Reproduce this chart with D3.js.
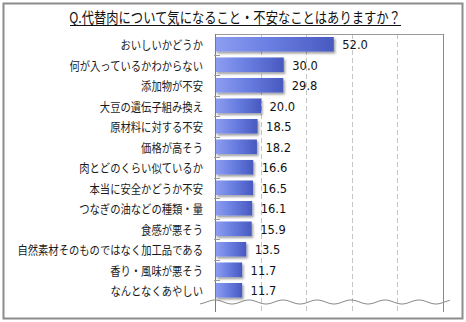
<!DOCTYPE html>
<html>
<head>
<meta charset="utf-8">
<script src="https://cdn.jsdelivr.net/npm/d3@7"></script>
<style>
  html, body { margin: 0; padding: 0; background: #fff; }
  svg { display: block; }
</style>
</head>
<body>
<div id="chart"></div>
<script>
// Survey answers (%) — "what concerns you about meat substitutes?"
const title = "Q.代替肉について気になること・不安なことはありますか？";
const categories = [
  "おいしいかどうか",
  "何が入っているかわからない",
  "添加物が不安",
  "大豆の遺伝子組み換え",
  "原材料に対する不安",
  "価格が高そう",
  "肉とどのくらい似ているか",
  "本当に安全かどうか不安",
  "つなぎの油などの種類・量",
  "食感が悪そう",
  "自然素材そのものではなく加工品である",
  "香り・風味が悪そう",
  "なんとなくあやしい"
];
const values = [52.0, 30.0, 29.8, 20.0, 18.5, 18.2, 16.6, 16.5, 16.1, 15.9, 13.5, 11.7, 11.7];
const gridTicks = [20, 40, 60, 80];
const axisMax = 100;

const W = 466, H = 322;
const plot = { left: 215, right: 442.5, top: 34, barsBottom: 300.5, bottom: 312 };

const svg = d3.select("#chart").append("svg")
  .attr("width", W).attr("height", H);

const defs = svg.append("defs");
const grad = defs.append("linearGradient").attr("id", "barGrad")
  .attr("x1", "0").attr("y1", "0").attr("x2", "1").attr("y2", "0");
grad.append("stop").attr("offset", "0%").attr("stop-color", "#8d9df0");
grad.append("stop").attr("offset", "45%").attr("stop-color", "#6a7fe2");
grad.append("stop").attr("offset", "100%").attr("stop-color", "#4859c0");

const shadow = defs.append("filter").attr("id", "barShadow")
  .attr("x", "-10%").attr("y", "-30%").attr("width", "130%").attr("height", "180%");
shadow.append("feDropShadow")
  .attr("dx", 1.5).attr("dy", 2).attr("stdDeviation", 1.1)
  .attr("flood-color", "#000").attr("flood-opacity", 0.38);

// Outer border
svg.append("rect")
  .attr("x", 3.5).attr("y", 3.5).attr("width", 459).attr("height", 315)
  .attr("fill", "#fff").attr("stroke", "#8c8c8c").attr("stroke-width", 2);

// Title (condensed horizontally) with underline
svg.append("text")
  .attr("transform", "translate(235,23) scale(0.82,1)")
  .attr("text-anchor", "middle")
  .attr("font-family", "'Noto Sans CJK JP', sans-serif")
  .attr("font-size", 15)
  .attr("fill", "#111")
  .text(title);
svg.append("line")
  .attr("x1", 70).attr("x2", 401).attr("y1", 25.5).attr("y2", 25.5)
  .attr("stroke", "#111").attr("stroke-width", 1);

// Scales
const x = d3.scaleLinear().domain([0, axisMax]).range([plot.left, plot.right]);
const y = d3.scaleBand().domain(categories)
  .range([plot.top, plot.barsBottom])
  .paddingInner(0.29).paddingOuter(0.145);

// Dashed gridlines
svg.append("g").selectAll("line").data(gridTicks).join("line")
  .attr("x1", d => Math.round(x(d)) + 0.5).attr("x2", d => Math.round(x(d)) + 0.5)
  .attr("y1", plot.top).attr("y2", plot.bottom)
  .attr("stroke", "#c4c4c4").attr("stroke-width", 1)
  .attr("stroke-dasharray", "5,3");

// Frame: top line and right edge
svg.append("line")
  .attr("x1", plot.left).attr("x2", Math.round(x(axisMax)) + 0.5)
  .attr("y1", plot.top + 0.5).attr("y2", plot.top + 0.5)
  .attr("stroke", "#9a9a9a");
svg.append("line")
  .attr("x1", Math.round(x(axisMax)) + 0.5).attr("x2", Math.round(x(axisMax)) + 0.5)
  .attr("y1", plot.top).attr("y2", plot.bottom)
  .attr("stroke", "#8a8a8a");

// Bars
svg.append("g").selectAll("rect").data(values).join("rect")
  .attr("x", x(0) + 0.5)
  .attr("y", (d, i) => y(categories[i]))
  .attr("width", d => x(d) - x(0))
  .attr("height", y.bandwidth())
  .attr("fill", "url(#barGrad)")
  .attr("filter", "url(#barShadow)");

// Category axis (left), with inward ticks between categories
const yAxisLine = svg.append("g");
yAxisLine.append("line")
  .attr("x1", plot.left + 0.5).attr("x2", plot.left + 0.5)
  .attr("y1", plot.top).attr("y2", plot.bottom)
  .attr("stroke", "#7a7a7a");
yAxisLine.selectAll("line.tick").data(categories.slice(0, -1)).join("line")
  .attr("class", "tick")
  .attr("x1", plot.left - 1).attr("x2", plot.left + 5)
  .attr("y1", d => Math.round(y(d) + y.step() * (1 - 0.145)) + 0.5)
  .attr("y2", d => Math.round(y(d) + y.step() * (1 - 0.145)) + 0.5)
  .attr("stroke", "#9a9a9a");

// Category labels
svg.append("g").selectAll("text").data(categories).join("text")
  .attr("transform", d => `translate(203,${y(d) + y.bandwidth() / 2 + 0.5}) scale(0.86,1)`)
  .attr("text-anchor", "end")
  .attr("dominant-baseline", "central")
  .attr("font-family", "'Noto Sans CJK JP', sans-serif")
  .attr("font-size", 12)
  .attr("fill", "#1a1a1a")
  .text(d => d);

// Value labels
svg.append("g").selectAll("text").data(values).join("text")
  .attr("x", d => x(d) + 9)
  .attr("y", (d, i) => y(categories[i]) + y.bandwidth() / 2 + 1)
  .attr("dominant-baseline", "central")
  .attr("font-family", "'DejaVu Sans', sans-serif")
  .attr("font-size", 11.5)
  .attr("fill", "#111")
  .text(d => d.toFixed(1));

// Wavy axis-break line beneath the bars
const waveY = 302, amp = 2, period = 34;
const wavePts = d3.range(200, 450.5, 1).map(px => [px, waveY - amp * Math.cos((px - 215) * 2 * Math.PI / period)]);
svg.append("path")
  .attr("d", d3.line().curve(d3.curveBasis)(wavePts))
  .attr("fill", "none")
  .attr("stroke", "#8a8a8a")
  .attr("stroke-width", 1);
</script>
</body>
</html>
